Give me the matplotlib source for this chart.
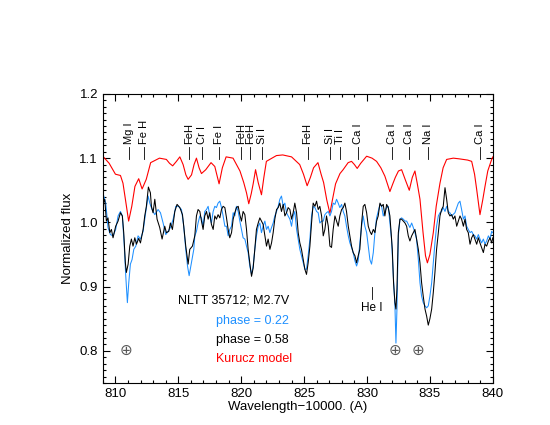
import matplotlib.pyplot as plt
import numpy as np
from matplotlib.ticker import MultipleLocator

plt.rcParams['font.family'] = ['Liberation Sans', 'DejaVu Sans']

# Kurucz model (red)
wl_model = [809.0, 809.5, 810.0, 810.4, 810.6, 810.8, 811.05, 811.3, 811.55, 811.85,
            812.12, 812.45, 812.8, 813.5, 814.05, 814.3, 814.55, 814.85, 815.12, 815.38,
            815.6, 815.78, 816.05, 816.25, 816.44, 816.65, 816.84, 817.18, 817.6, 817.9,
            818.05, 818.24, 818.5, 818.8, 819.35, 819.9, 820.2, 820.42, 820.6, 820.8,
            820.95, 821.14, 821.35, 821.61, 821.8, 822.0, 822.8, 823.3, 824.0, 824.65,
            824.95, 825.24, 825.5, 825.75, 826.1, 826.35, 826.55, 826.8, 827.05, 827.25,
            827.5, 827.85, 828.1, 828.5, 828.77, 829.0, 829.22, 829.5, 829.97, 830.4,
            830.76, 831.1, 831.42, 831.82, 832.05, 832.25, 832.5, 832.75, 833.05, 833.36,
            833.6, 833.81, 834.0, 834.21, 834.45, 834.65, 834.8, 835.0, 835.27, 835.5,
            835.8, 836.05, 836.33, 836.86, 837.3, 837.65, 838.0, 838.32, 838.55, 838.72,
            838.98, 839.2, 839.38, 839.6, 839.91, 840.0]
flux_model = [1.103, 1.092, 1.075, 1.073, 1.061, 1.035, 1.002, 1.025, 1.056, 1.068,
              1.052, 1.067, 1.093, 1.100, 1.098, 1.092, 1.088, 1.095, 1.102, 1.090,
              1.074, 1.067, 1.074, 1.090, 1.100, 1.085, 1.076, 1.082, 1.093, 1.087,
              1.075, 1.060, 1.085, 1.102, 1.100, 1.080, 1.062, 1.046, 1.029, 1.045,
              1.060, 1.082, 1.062, 1.043, 1.070, 1.095, 1.104, 1.105, 1.102, 1.090,
              1.075, 1.057, 1.070, 1.085, 1.093, 1.075, 1.062, 1.035, 1.014, 1.035,
              1.060, 1.076, 1.082, 1.093, 1.095, 1.090, 1.084, 1.092, 1.103, 1.100,
              1.095, 1.085, 1.072, 1.048, 1.060, 1.070, 1.080, 1.082, 1.066, 1.050,
              1.070, 1.080, 1.060, 1.036, 0.985, 0.948, 0.937, 0.950, 0.984, 1.025,
              1.061, 1.085, 1.098, 1.100, 1.099, 1.098, 1.097, 1.095, 1.075, 1.051,
              1.012, 1.035, 1.056, 1.080, 1.098, 1.102]

# phase = 0.58 (black)
wl_b = [809.00, 809.15, 809.28, 809.41, 809.55, 809.68, 809.81, 810.02, 810.21, 810.40,
        810.55, 810.66, 810.79, 810.87, 811.01, 811.14, 811.27, 811.40, 811.54, 811.67,
        811.85, 811.99, 812.20, 812.33, 812.46, 812.62, 812.78, 812.86, 812.99, 813.13,
        813.31, 813.52, 813.71, 813.92, 814.05, 814.24, 814.37, 814.53, 814.72, 814.90,
        815.12, 815.33, 815.43, 815.59, 815.78, 815.91, 816.12, 816.31,
        816.44, 816.57, 816.71, 816.84, 816.97, 817.10, 817.24, 817.37, 817.50, 817.63,
        817.77, 817.90, 818.03, 818.16, 818.30, 818.43, 818.56, 818.70, 818.83, 818.96,
        819.09, 819.23, 819.36, 819.49, 819.62, 819.76, 819.89, 820.02, 820.15, 820.29,
        820.42, 820.55, 820.68, 820.82, 820.95, 821.08, 821.21, 821.35, 821.48, 821.61,
        821.74, 821.88, 822.01, 822.14, 822.28, 822.41, 822.54, 822.67, 822.81, 822.94,
        823.07, 823.20, 823.34, 823.47, 823.60, 823.73, 823.87,
        824.00, 824.13, 824.26, 824.40, 824.53, 824.66, 824.79, 824.93, 825.06, 825.19,
        825.32, 825.46, 825.59, 825.72, 825.86, 825.99, 826.12, 826.25, 826.39, 826.52,
        826.65, 826.78, 826.92, 827.05, 827.18, 827.31, 827.45, 827.58, 827.71, 827.84,
        827.98, 828.11, 828.24, 828.37, 828.51, 828.64, 828.77, 828.90, 829.04, 829.17,
        829.30, 829.43, 829.57, 829.70, 829.83, 829.97, 830.10, 830.23, 830.36, 830.50,
        830.63, 830.76, 830.89, 831.03, 831.16, 831.29, 831.42,
        831.56, 831.69, 831.82, 831.90, 832.01, 832.11, 832.22, 832.30, 832.38, 832.49,
        832.62, 832.75, 832.88, 833.02, 833.15, 833.28, 833.41, 833.55, 833.68, 833.81,
        833.94, 834.08, 834.21, 834.34, 834.47, 834.61, 834.74, 834.87, 835.00, 835.14,
        835.27, 835.40, 835.53, 835.67, 835.80, 835.93, 836.06, 836.20, 836.33, 836.46,
        836.59, 836.73, 836.86, 836.99, 837.13, 837.26, 837.39, 837.52, 837.66, 837.79,
        837.92, 838.05, 838.19, 838.32, 838.45, 838.58, 838.72, 838.85, 838.98, 839.11,
        839.25, 839.38, 839.51, 839.65, 839.78, 839.91, 840.0]
flux_b = [1.028, 1.036, 1.002, 1.007, 0.984, 0.989, 0.976, 0.994, 1.002, 1.015,
          1.010, 0.984, 0.937, 0.922, 0.935, 0.963, 0.974, 0.963, 0.976, 0.966,
          0.975, 0.968, 0.989, 1.010, 1.025, 1.055, 1.046, 1.025, 1.015, 1.036,
          1.005, 0.992, 0.974, 0.994, 0.984, 0.986, 0.999, 0.989, 1.017, 1.028,
          1.023, 1.012, 0.994, 0.963, 0.935, 0.958, 0.963, 0.979,
          1.010, 1.020, 1.017, 1.002, 0.989, 1.010, 1.017, 1.005, 1.015, 0.997,
          0.989, 1.010, 1.005, 1.012, 1.007, 1.020, 1.025, 1.023, 1.007, 0.989,
          0.976, 0.984, 1.005, 1.015, 1.023, 1.025, 1.012, 1.002, 1.017, 1.012,
          0.989, 0.958, 0.937, 0.916, 0.929, 0.958, 0.989, 0.999, 1.007, 1.002,
          0.997, 0.979, 0.963, 0.974, 0.958, 0.968, 0.984, 1.005, 1.020, 1.023,
          1.030, 1.017, 1.028, 1.010, 1.015, 1.023, 1.020,
          1.005, 1.015, 1.030, 1.015, 0.984, 0.968, 0.958, 0.942, 0.927, 0.919,
          0.937, 0.963, 0.999, 1.030, 1.025, 1.033, 1.020, 1.025, 1.010, 0.979,
          0.989, 1.010, 0.994, 0.963, 0.961, 0.989, 1.010, 1.002, 0.994, 1.010,
          1.020, 1.023, 1.030, 1.017, 0.994, 0.979, 0.963, 0.953, 0.948, 0.937,
          0.948, 0.958, 0.999, 1.025, 1.028, 1.015, 0.994, 0.986, 0.981, 0.989,
          0.984, 1.002, 1.010, 1.030, 1.025, 1.028, 1.010,
          1.028, 1.023, 1.010, 0.989, 0.958, 0.906, 0.875, 0.865, 0.896, 0.984,
          1.005, 1.005, 1.002, 0.999, 0.994, 0.979, 0.971, 0.979, 0.984, 0.989,
          0.974, 0.958, 0.937, 0.906, 0.885, 0.865, 0.854, 0.840, 0.850, 0.865,
          0.891, 0.922, 0.958, 0.984, 1.010, 1.020, 1.025, 1.054, 1.036, 1.015,
          1.010, 1.012, 1.005, 1.010, 0.994, 1.002, 1.010, 1.005, 0.994, 1.005,
          0.989, 0.984, 0.966, 0.976, 0.981, 0.974, 0.966, 0.976, 0.968, 0.961,
          0.953, 0.966, 0.963, 0.971, 0.976, 0.968, 0.976]

# phase = 0.22 (blue)
wl_c = [809.00, 809.23, 809.41, 809.60, 809.81, 810.02, 810.21, 810.40, 810.55, 810.69,
        810.82, 810.95, 811.06, 811.19, 811.32, 811.46, 811.62, 811.80, 811.99, 812.20,
        812.38, 812.60, 812.73, 812.91, 813.13, 813.39, 813.58, 813.79, 814.00, 814.19,
        814.37, 814.59, 814.80, 815.01, 815.25, 815.43, 815.59, 815.73, 815.86, 816.04,
        816.23, 816.31, 816.44, 816.57, 816.71, 816.84, 816.97, 817.10, 817.24, 817.37,
        817.50, 817.63, 817.77, 817.90, 818.03, 818.16, 818.30, 818.43, 818.56, 818.70,
        818.83, 818.96, 819.09, 819.23, 819.36, 819.49, 819.62, 819.76, 819.89, 820.02,
        820.15, 820.29, 820.42, 820.55, 820.68, 820.82, 820.95, 821.08, 821.21, 821.35,
        821.48, 821.61, 821.74, 821.88, 822.01, 822.14, 822.28, 822.41, 822.54, 822.67,
        822.81, 822.94, 823.07, 823.20, 823.34, 823.47, 823.60, 823.73, 823.87,
        824.00, 824.13, 824.26, 824.40, 824.53, 824.66, 824.79, 824.93, 825.06, 825.19,
        825.32, 825.46, 825.59, 825.72, 825.86, 825.99, 826.12, 826.25, 826.39, 826.52,
        826.65, 826.78, 826.92, 827.05, 827.18, 827.31, 827.45, 827.58, 827.71, 827.84,
        827.98, 828.11, 828.24, 828.37, 828.51, 828.64, 828.77, 828.90, 829.04, 829.17,
        829.30, 829.43, 829.57, 829.70, 829.83, 829.97, 830.10, 830.23, 830.36, 830.50,
        830.63, 830.76, 830.89, 831.03, 831.16, 831.29, 831.42,
        831.56, 831.69, 831.82, 831.95, 832.09, 832.22, 832.30, 832.38, 832.49, 832.62,
        832.75, 832.88, 833.02, 833.15, 833.28, 833.41, 833.55, 833.68, 833.81, 833.94,
        834.08, 834.21, 834.34, 834.47, 834.61, 834.74, 834.87, 835.00, 835.14, 835.27,
        835.40, 835.53, 835.67, 835.80, 835.93, 836.06, 836.20, 836.33, 836.46, 836.59,
        836.73, 836.99, 837.26, 837.39, 837.52, 837.66, 837.79, 837.92, 838.05, 838.19,
        838.32, 838.45, 838.58, 838.72, 838.85, 838.98, 839.11, 839.25, 839.38, 839.51,
        839.65, 839.78, 839.91, 840.0]
flux_c = [1.046, 1.030, 0.992, 0.981, 0.979, 0.989, 1.010, 1.017, 1.010, 0.968,
          0.917, 0.875, 0.906, 0.935, 0.942, 0.958, 0.963, 0.979, 0.974, 0.986,
          1.012, 1.041, 1.030, 1.020, 1.012, 1.020, 1.015, 0.999, 0.981, 0.986,
          0.992, 1.005, 1.025, 1.025, 1.020, 0.994, 0.958, 0.932, 0.917, 0.937,
          0.958, 0.979, 0.986, 0.999, 1.010, 1.007, 0.994, 1.017, 1.020, 1.025,
          1.010, 0.999, 1.017, 1.025, 1.023, 1.030, 1.033, 1.023, 1.010, 0.994,
          0.994, 0.979, 0.989, 0.994, 1.015, 1.010, 1.025, 1.017, 1.002, 0.989,
          0.976, 0.974, 0.963, 0.953, 0.932, 0.919, 0.932, 0.958, 0.979, 0.994,
          0.999, 0.984, 0.994, 1.002, 0.989, 0.994, 0.984, 0.992, 0.999, 1.010,
          1.017, 1.025, 1.036, 1.041, 1.025, 1.030, 1.015, 1.010, 1.005,
          0.994, 1.010, 1.017, 0.989, 0.974, 0.958, 0.948, 0.937, 0.927, 0.927,
          0.948, 0.974, 1.010, 1.025, 1.023, 1.017, 1.015, 0.999, 1.002, 1.002,
          1.012, 1.015, 1.017, 1.010, 1.017, 1.030, 1.028, 1.036, 1.030, 1.023,
          1.028, 1.017, 1.010, 0.994, 0.979, 0.968, 0.961, 0.953, 0.940, 0.932,
          0.940, 0.968, 0.994, 1.010, 0.994, 0.984, 0.963, 0.942, 0.935, 0.953,
          0.984, 1.007, 1.017, 1.028, 1.025, 1.010, 1.017,
          1.023, 1.025, 0.999, 0.974, 0.917, 0.870, 0.812, 0.865, 0.979, 1.005,
          1.007, 1.005, 1.002, 1.002, 0.997, 0.992, 0.999, 0.992, 0.984, 0.974,
          0.942, 0.906, 0.885, 0.875, 0.870, 0.867, 0.870, 0.885, 0.906, 0.937,
          0.968, 0.994, 1.010, 1.015, 1.017, 1.023, 1.017, 1.025, 1.017, 1.015,
          1.010, 1.015, 1.030, 1.033, 1.020, 1.005, 1.010, 0.994, 0.989, 0.984,
          0.986, 0.981, 0.979, 0.974, 0.981, 0.974, 0.968, 0.974, 0.966, 0.971,
          0.979, 0.974, 0.986, 0.984]

# line identifications
line_wl = [811.06, 812.28, 815.86, 816.89, 818.22, 820.02, 820.68, 821.66, 825.27,
           827.05, 827.85, 829.25, 831.95, 833.36, 834.82, 838.98]
line_names = ['Mg I', 'Fe H', 'FeH', 'Cr I', 'Fe I', 'FeH', 'FeH', 'Si I', 'FeH',
              'Si I', 'Ti I', 'Ca I', 'Ca I', 'Ca I', 'Na I', 'Ca I']

# telluric markers
tell_wl = [810.87, 832.22, 834.07]

blue = '#1e90ff'

fig = plt.figure(figsize=(5.5, 4.25), dpi=100)
ax = fig.add_axes([0.187, 0.099, 0.709, 0.68])

ax.plot(wl_model, flux_model, color='red', lw=0.8)
ax.plot(wl_c, flux_c, color=blue, lw=0.75)
ax.plot(wl_b, flux_b, color='black', lw=0.75)

for w, name in zip(line_wl, line_names):
    ax.plot([w, w], [1.099, 1.118], color='black', lw=0.6)
    ax.text(w, 1.122, name, rotation=90, ha='center', va='bottom', fontsize=8)

ax.plot([830.37, 830.37], [0.880, 0.900], color='black', lw=0.6)
ax.text(830.37, 0.866, 'He I', ha='center', va='center', fontsize=8.5)

for w in tell_wl:
    ax.text(w, 0.800, '\u2295', ha='center', va='center', fontsize=11,
            color='0.35', family='DejaVu Sans')

ax.text(814.96, 0.878, 'NLTT 35712; M2.7V', fontsize=9, va='center')
ax.text(817.98, 0.847, 'phase = 0.22', fontsize=9, va='center', color=blue)
ax.text(817.98, 0.817, 'phase = 0.58', fontsize=9, va='center', color='black')
ax.text(817.98, 0.787, 'Kurucz model', fontsize=9, va='center', color='red')

ax.set_xlim(809, 840)
ax.set_ylim(0.75, 1.2)
ax.xaxis.set_major_locator(MultipleLocator(5))
ax.xaxis.set_minor_locator(MultipleLocator(1))
ax.yaxis.set_major_locator(MultipleLocator(0.1))
ax.yaxis.set_minor_locator(MultipleLocator(0.01))
ax.tick_params(which='both', direction='in', top=True, right=True, labelsize=9.5)
ax.tick_params(which='major', length=5, width=0.8)
ax.tick_params(which='minor', length=2.5, width=0.8)
ax.set_xlabel('Wavelength\u221210000. (A)', fontsize=9.5, labelpad=1)
ax.set_ylabel('Normalized flux', fontsize=9.5)

plt.savefig('out.png', dpi=100)
